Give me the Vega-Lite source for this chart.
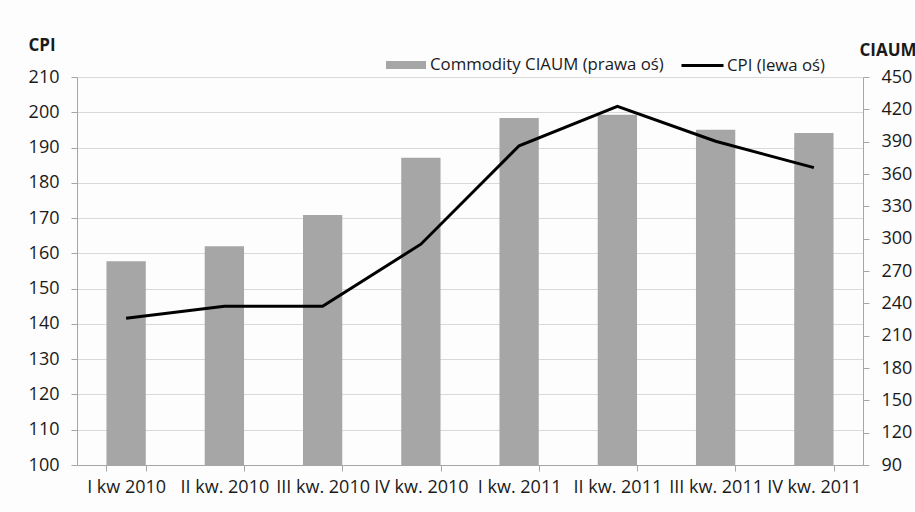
{
  "$schema": "https://vega.github.io/schema/vega-lite/v6.json",
  "autosize": "none",
  "width": 786,
  "height": 388,
  "padding": {"left": 77, "top": 77, "right": 52, "bottom": 47},
  "background": "#fdfdfd",
  "config": {
    "view": {"stroke": null},
    "font": "Open Sans",
    "axis": {
      "labelFont": "Open Sans",
      "labelFontSize": 18,
      "labelColor": "#1a1a1a",
      "domainColor": "#a6a6a6",
      "tickColor": "#a6a6a6",
      "tickSize": 6,
      "titleFont": "Open Sans",
      "titleFontSize": 17,
      "titleFontWeight": "bold",
      "titleColor": "#1a1a1a"
    },
    "legend": {
      "labelFont": "Open Sans",
      "labelFontSize": 16.8,
      "labelColor": "#1a1a1a",
      "labelLimit": 400,
      "padding": 0,
      "title": null
    }
  },
  "data": {
    "values": [
      {"kwartal": "I kw 2010", "ciaum": 279, "cpi": 141.6},
      {"kwartal": "II kw. 2010", "ciaum": 293, "cpi": 145.0},
      {"kwartal": "III kw. 2010", "ciaum": 322, "cpi": 145.0},
      {"kwartal": "IV kw. 2010", "ciaum": 375, "cpi": 162.6},
      {"kwartal": "I kw. 2011", "ciaum": 412, "cpi": 190.5},
      {"kwartal": "II kw. 2011", "ciaum": 415, "cpi": 201.7},
      {"kwartal": "III kw. 2011", "ciaum": 401, "cpi": 191.8},
      {"kwartal": "IV kw. 2011", "ciaum": 398, "cpi": 184.3}
    ]
  },
  "encoding": {
    "x": {
      "field": "kwartal",
      "type": "nominal",
      "sort": null,
      "scale": {"paddingInner": 0.6, "paddingOuter": 0.3},
      "axis": {
        "title": null,
        "labelAngle": 0,
        "labelOverlap": false,
        "labelPadding": 7,
        "tickBand": "extent",
        "grid": false
      }
    }
  },
  "layer": [
    {
      "mark": {"type": "bar", "color": "#a6a6a6"},
      "encoding": {
        "y": {
          "field": "ciaum",
          "type": "quantitative",
          "scale": {"domain": [90, 450], "nice": false, "zero": false},
          "axis": {
            "orient": "right",
            "title": "CIAUM",
            "titleAngle": 0,
            "titleAlign": "left",
            "titleBaseline": "middle",
            "titleX": -4,
            "titleY": -27,
            "values": [90, 120, 150, 180, 210, 240, 270, 300, 330, 360, 390, 420, 450],
            "labelPadding": 12,
            "grid": false
          }
        },
        "y2": {"datum": 90},
        "fill": {
          "datum": "Commodity CIAUM (prawa oś)",
          "scale": {"range": ["#a6a6a6"]},
          "legend": {
            "orient": "none",
            "legendX": 309,
            "legendY": -32,
            "symbolType": "M-1,-0.2H1V0.2H-1Z",
            "symbolSize": 1600,
            "symbolStrokeWidth": 0,
            "labelOffset": 4
          }
        }
      }
    },
    {
      "mark": {"type": "line", "color": "#000000", "strokeWidth": 3},
      "encoding": {
        "y": {
          "field": "cpi",
          "type": "quantitative",
          "scale": {"domain": [100, 210], "nice": false, "zero": false},
          "axis": {
            "orient": "left",
            "title": "CPI",
            "titleAngle": 0,
            "titleAlign": "left",
            "titleBaseline": "middle",
            "titleX": -49,
            "titleY": -32,
            "values": [100, 110, 120, 130, 140, 150, 160, 170, 180, 190, 200, 210],
            "labelPadding": 12,
            "grid": true,
            "gridColor": "#d9d9d9",
            "gridWidth": 1
          }
        },
        "stroke": {
          "datum": "CPI (lewa oś)",
          "scale": {"range": ["#000000"]},
          "legend": {
            "orient": "none",
            "legendX": 603,
            "legendY": -34,
            "symbolType": "stroke",
            "symbolSize": 1764,
            "symbolStrokeWidth": 3,
            "labelOffset": 2
          }
        }
      }
    }
  ],
  "resolve": {"scale": {"y": "independent", "fill": "independent", "stroke": "independent"}}
}
